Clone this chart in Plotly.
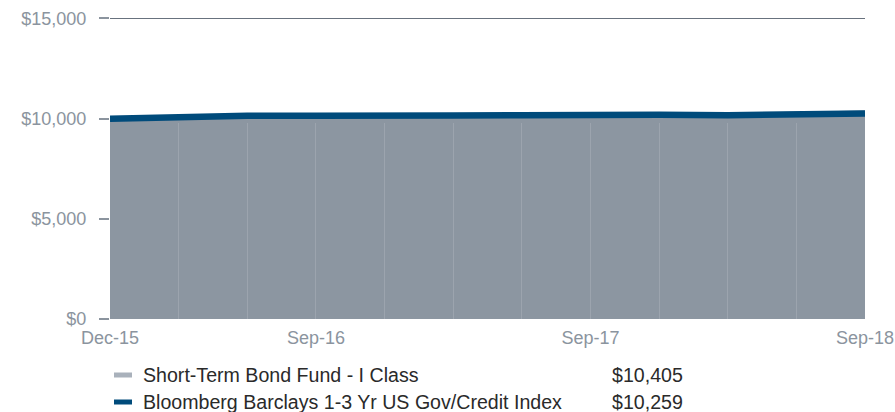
import plotly.graph_objects as go

periods = ["Dec-15", "Mar-16", "Jun-16", "Sep-16", "Dec-16", "Mar-17", "Jun-17",
           "Sep-17", "Dec-17", "Mar-18", "Jun-18", "Sep-18"]
fund = [10000, 10070, 10140, 10170, 10150, 10200, 10240, 10290, 10290, 10290, 10340, 10405]
index = [10000, 10080, 10140, 10145, 10115, 10160, 10175, 10225, 10200, 10175, 10200, 10259]
tick_labels = ["Dec-15", "Sep-16", "Sep-17", "Sep-18"]
fund_name = "Short-Term Bond Fund - I Class"
index_name = "Bloomberg Barclays 1-3 Yr US Gov/Credit Index"
y_ticks = [0, 5000, 10000, 15000]

x = list(range(len(periods)))
tick_pos = [periods.index(t) for t in tick_labels]

FONT = "Liberation Sans, Arial, sans-serif"
GRAY_TXT = "#8b949e"
W, H = 895, 412
L, R, T, B = 110, 30, 18, 93
PW, PH = W - L - R, H - T - B

fig = go.Figure()
fig.add_trace(go.Scatter(x=x, y=fund, mode="lines", fill="tozeroy",
                         line=dict(color="#8c96a1", width=0),
                         fillcolor="#8c96a1", name=fund_name, showlegend=False))
fig.add_trace(go.Scatter(x=x, y=index, mode="lines",
                         line=dict(color="#004b7b", width=6.5),
                         name=index_name, showlegend=False))

# top gridline (the only one not hidden by the area)
fig.add_shape(type="line", xref="paper", yref="y", x0=0, x1=1,
              y0=y_ticks[-1], y1=y_ticks[-1], layer="below",
              line=dict(color="#5f6a76", width=1))

fig.update_layout(
    width=W, height=H,
    margin=dict(l=L, r=R, t=T, b=B, autoexpand=False),
    paper_bgcolor="white", plot_bgcolor="white",
    font=dict(family=FONT, color=GRAY_TXT, size=18),
    xaxis=dict(range=[0, len(periods) - 1], tickvals=tick_pos, ticktext=tick_labels,
               showgrid=False, zeroline=False, showline=False, ticks="",
               automargin=False, ticklabelstandoff=6,
               minor=dict(tickvals=x[1:-1], ticks="inside", ticklen=196,
                          tickcolor="rgba(255,255,255,0.14)", tickwidth=1),
               tickfont=dict(size=18, color=GRAY_TXT)),
    yaxis=dict(range=[0, 15000 * 1.0015], tickvals=y_ticks,
               ticktext=["$" + format(v, ",") for v in y_ticks],
               showgrid=False, zeroline=False, showline=False, automargin=False,
               ticks="outside", ticklen=10, tickcolor="#8b949e", tickwidth=2,
               ticklabelstandoff=9,
               tickfont=dict(size=18, color=GRAY_TXT)),
)

legend_rows = [(fund_name, fund[-1], "#a9b1bb", 375), (index_name, index[-1], "#004b7b", 402)]
for name, val, col, ypix in legend_rows:
    yp = 1 - (ypix - T) / PH
    fig.add_shape(type="line", xref="paper", yref="paper",
                  x0=(114 - L) / PW, x1=(132 - L) / PW, y0=yp, y1=yp,
                  line=dict(color=col, width=5))
    fig.add_annotation(xref="paper", yref="paper", x=(143 - L) / PW, y=yp,
                       text=name, showarrow=False, xanchor="left", yanchor="middle",
                       xshift=-2, font=dict(size=19.6, color="#2a2a2a", family=FONT))
    fig.add_annotation(xref="paper", yref="paper", x=(612 - L) / PW, y=yp,
                       text="$" + format(val, ","), showarrow=False, xanchor="left",
                       xshift=-2, yanchor="middle",
                       font=dict(size=19.6, color="#2a2a2a", family=FONT))

fig.write_html("out.html", config={"displayModeBar": False},
               post_script="document.body.style.margin='0';document.body.style.overflow='hidden';")
